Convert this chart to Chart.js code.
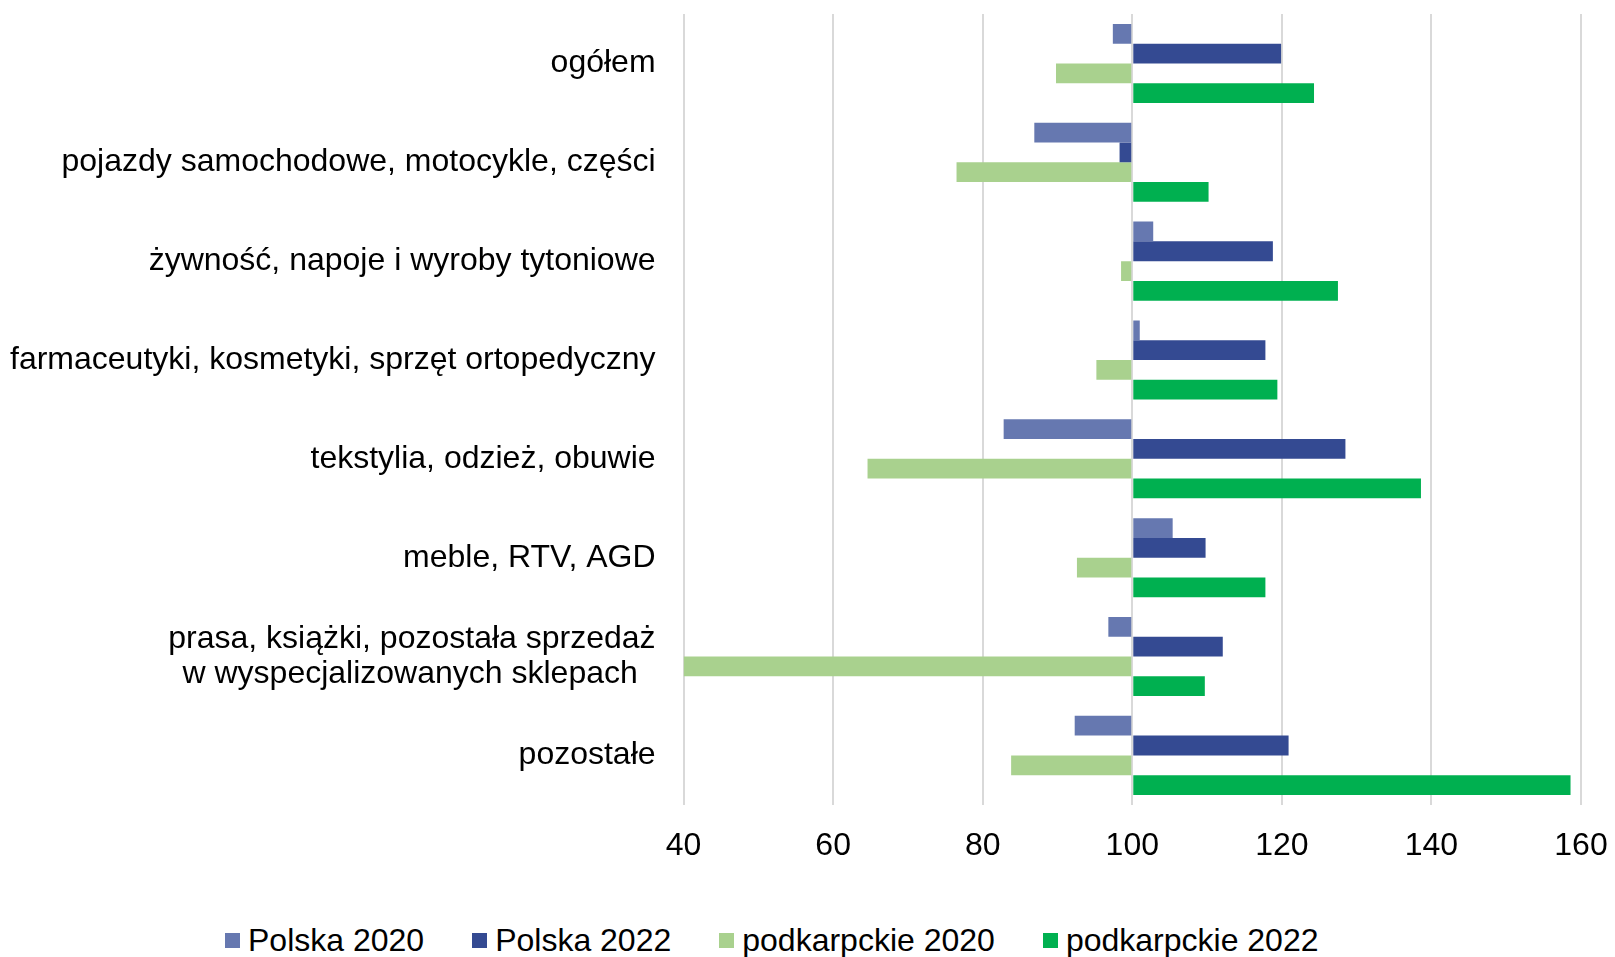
<!DOCTYPE html>
<html>
<head>
<meta charset="utf-8">
<script src="https://cdn.jsdelivr.net/npm/chart.js@4/dist/chart.umd.min.js"></script>
<style>
  html, body { margin: 0; padding: 0; background: #fff; overflow: hidden; }
  #wrap { position: absolute; top: 0; left: -20px; width: 1635px; height: 898px; }
  #legenda { position: absolute; top: 922px; left: 225px; display: flex; font-family: "Liberation Sans", Arial, sans-serif; font-size: 32px; color: #000; }
  .poz { display: flex; align-items: center; margin-right: 48px; }
  .kw { width: 15px; height: 15px; margin-right: 8px; }
</style>
</head>
<body>
<div id="wrap"><canvas id="myChart"></canvas></div>
<div id="legenda"></div>
<script>
const kategorie = [
  'ogółem',
  'pojazdy samochodowe, motocykle, części',
  'żywność, napoje i wyroby tytoniowe',
  'farmaceutyki, kosmetyki, sprzęt ortopedyczny',
  'tekstylia, odzież, obuwie',
  'meble, RTV, AGD',
  ['prasa, książki, pozostała sprzedaż', 'w wyspecjalizowanych sklepach  '],
  'pozostałe'
];
const polska2020 = [97.4, 86.9, 102.8, 101.0, 82.8, 105.4, 96.8, 92.3];
const polska2022 = [119.9, 98.3, 118.8, 117.8, 128.5, 109.8, 112.1, 120.9];
const podkarpackie2020 = [89.8, 76.5, 98.5, 95.2, 64.6, 92.6, 40.0, 83.8];
const podkarpackie2022 = [124.3, 110.2, 127.5, 119.4, 138.6, 117.8, 109.7, 158.6];
const tickiX = [40, 60, 80, 100, 120, 140, 160];

const serie = [
  { label: 'Polska 2020', data: polska2020, kolor: '#6678B0' },
  { label: 'Polska 2022', data: polska2022, kolor: '#344A92' },
  { label: 'podkarpckie 2020', data: podkarpackie2020, kolor: '#A9D18E' },
  { label: 'podkarpckie 2022', data: podkarpackie2022, kolor: '#00B050' }
];

const czcionka = { family: '"Liberation Sans", Arial, sans-serif', size: 32, lineHeight: 1.1 };

function rysujWykres() {
  const ctx = document.getElementById('myChart');
  new Chart(ctx, {
    type: 'bar',
    data: {
      labels: kategorie,
      datasets: serie.map(s => ({
        label: s.label,
        data: s.data,
        base: 100,
        backgroundColor: s.kolor,
        borderWidth: 0,
        categoryPercentage: 0.8,
        barPercentage: 1.0
      }))
    },
    options: {
      indexAxis: 'y',
      responsive: true,
      maintainAspectRatio: false,
      animation: false,
      layout: { padding: { left: 10, right: 34, top: 14, bottom: 10 } },
      plugins: { legend: { display: false }, tooltip: { enabled: false } },
      scales: {
        x: {
          min: 40,
          max: 160,
          afterBuildTicks: axis => { axis.ticks = tickiX.map(v => ({ value: v })); },
          afterFit: axis => { axis.paddingLeft = 0; axis.paddingRight = 0; },
          grid: { color: '#D9D9D9', lineWidth: 2, drawTicks: false },
          border: { display: false },
          ticks: { color: '#000', font: czcionka, padding: 24 }
        },
        y: {
          afterFit: axis => { axis.paddingTop = 0; axis.paddingBottom = 0; },
          grid: { display: false },
          border: { display: false },
          ticks: { color: '#000', font: czcionka, padding: 20 }
        }
      }
    }
  });
}

function rysujLegende() {
  const box = document.getElementById('legenda');
  serie.forEach(s => {
    const el = document.createElement('div');
    el.className = 'poz';
    el.innerHTML = '<span class="kw" style="background:' + s.kolor + '"></span>' + s.label;
    box.appendChild(el);
  });
}

rysujWykres();
rysujLegende();
</script>
</body>
</html>
